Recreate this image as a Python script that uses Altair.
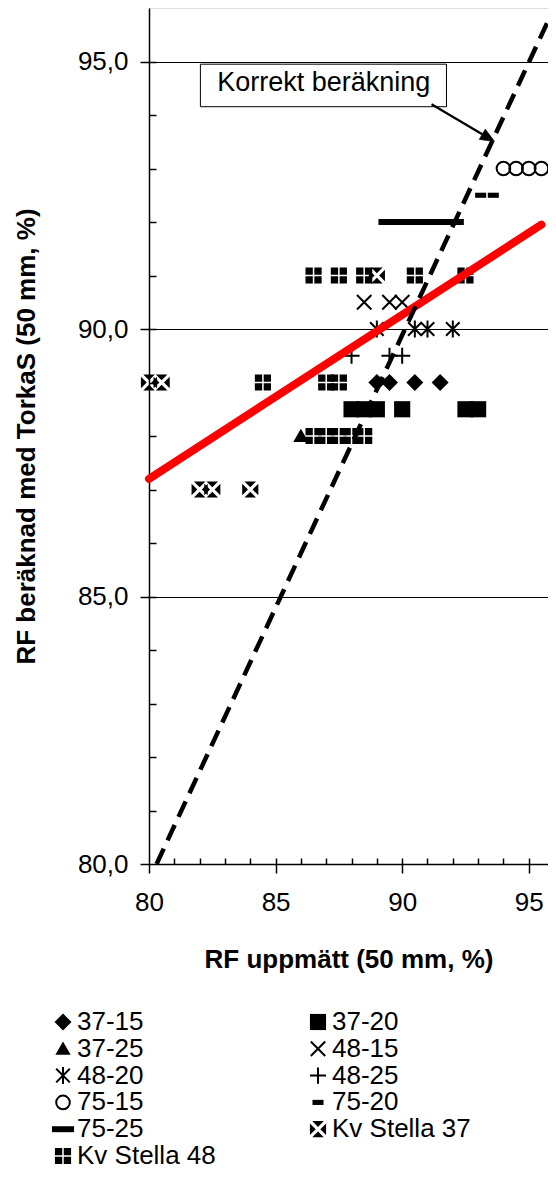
import altair as alt
import pandas as pd

# ---------------- data ----------------
SERIES = ["37-15", "37-20", "37-25", "48-15", "48-20", "48-25",
          "75-15", "75-20", "75-25", "Kv Stella 37", "Kv Stella 48"]

x_37_15 = [89.0, 89.5, 90.5, 91.5]
y_37_15 = [89.0, 89.0, 89.0, 89.0]
x_37_20 = [88.0, 88.5, 89.0, 90.0, 92.5, 93.0]
y_37_20 = [88.5, 88.5, 88.5, 88.5, 88.5, 88.5]
x_37_25 = [86.0]
y_37_25 = [88.0]
x_48_15 = [88.5, 89.5, 90.0]
y_48_15 = [90.5, 90.5, 90.5]
x_48_20 = [89.0, 90.5, 91.0, 92.0]
y_48_20 = [90.0, 90.0, 90.0, 90.0]
x_48_25 = [88.0, 89.5, 90.0]
y_48_25 = [89.5, 89.5, 89.5]
x_75_15 = [94.0, 94.5, 95.0, 95.5]
y_75_15 = [93.0, 93.0, 93.0, 93.0]
x_75_20 = [93.1, 93.6]
y_75_20 = [92.5, 92.5]
x_75_25 = [89.5, 90.0, 90.5, 91.0, 91.5, 92.0]
y_75_25 = [92.0, 92.0, 92.0, 92.0, 92.0, 92.0]
x_kv37 = [80.0, 80.5, 82.0, 82.5, 84.0, 89.0]
y_kv37 = [89.0, 89.0, 87.0, 87.0, 87.0, 91.0]
x_kv48 = [86.5, 87.5, 88.5, 90.5, 92.5, 84.5, 87.0, 87.5, 86.5, 87.0, 87.5, 88.0, 88.5]
y_kv48 = [91.0, 91.0, 91.0, 91.0, 91.0, 89.0, 89.0, 89.0, 88.0, 88.0, 88.0, 88.0, 88.0]

# "Korrekt beräkning" dashed line and red fitted line (end points)
korrekt_x = [80.3, 96.0]
korrekt_y = [80.0, 96.0]
fit_x = [80.0, 95.5]
fit_y = [87.2, 91.95]

# annotation (data units)
note_text = ["Korrekt beräkning"]
note_box_x = [82.03]
note_box_x2 = [91.75]
note_box_y = [94.95]
note_box_y2 = [94.155]
note_text_x = [86.9]
note_text_y = [94.6]
arrow_x = [91.16, 93.38]
arrow_y = [94.2, 93.58]

x_domain = [80, 95.76]
y_domain = [80, 96]
x_major = [80, 85, 90, 95]
y_major = [80, 85, 90, 95]
minor = [81, 82, 83, 84, 85, 86, 87, 88, 89, 90, 91, 92, 93, 94, 95]

# ---------------- build tables ----------------
series_xy = [
    ("37-15", x_37_15, y_37_15), ("37-20", x_37_20, y_37_20),
    ("37-25", x_37_25, y_37_25), ("48-15", x_48_15, y_48_15),
    ("48-20", x_48_20, y_48_20), ("48-25", x_48_25, y_48_25),
    ("75-15", x_75_15, y_75_15), ("75-20", x_75_20, y_75_20),
    ("75-25", x_75_25, y_75_25), ("Kv Stella 37", x_kv37, y_kv37),
    ("Kv Stella 48", x_kv48, y_kv48),
]
rows = []
for name, xs_, ys_ in series_xy:
    for a, b in zip(xs_, ys_):
        rows.append({"serie": name, "x": a, "y": b})
pts = pd.DataFrame(rows)

kv37_path = ("M-0.68,-0.95L0.68,-0.95L0,-0.27Z M-0.68,0.95L0.68,0.95L0,0.27Z "
             "M-0.95,-0.68L-0.95,0.68L-0.27,0Z M0.95,-0.68L0.95,0.68L0.27,0Z")
kv48_path = ("M-0.95,-0.95L-0.09,-0.95L-0.09,-0.09L-0.95,-0.09Z "
             "M0.09,-0.95L0.95,-0.95L0.95,-0.09L0.09,-0.09Z "
             "M-0.95,0.09L-0.09,0.09L-0.09,0.95L-0.95,0.95Z "
             "M0.09,0.09L0.95,0.09L0.95,0.95L0.09,0.95Z")
shapes = [
    "M-1,0L0,-1L1,0L0,1Z",
    "M-0.95,-0.95L0.95,-0.95L0.95,0.95L-0.95,0.95Z",
    "M0,-0.85L0.9,0.7L-0.9,0.7Z",
    "M-0.85,-0.85L0.85,0.85M-0.85,0.85L0.85,-0.85",
    "M-0.8,-0.8L0.8,0.8M-0.8,0.8L0.8,-0.8M0,-1L0,1",
    "M-0.95,0L0.95,0M0,-0.95L0,0.95",
    "M-0.8,0A0.8,0.8,0,1,0,0.8,0A0.8,0.8,0,1,0,-0.8,0Z",
    "M-0.65,-0.3L0.65,-0.3L0.65,0.3L-0.65,0.3Z",
    "M-1.3,-0.35L1.3,-0.35L1.3,0.35L-1.3,0.35Z",
    kv37_path,
    kv48_path,
]
fills = ["black", "black", "black", "transparent", "transparent", "transparent",
         "transparent", "black", "black", "black", "black"]
strokes = ["transparent", "transparent", "transparent", "black", "black", "black",
           "black", "transparent", "transparent", "transparent", "transparent"]

FONT = "Liberation Sans"
xs = alt.Scale(domain=x_domain, nice=False, zero=False)
ys = alt.Scale(domain=y_domain, nice=False, zero=False)

legend = alt.Legend(
    title=None, orient="none", legendX=-99, legendY=1001, columns=2,
    direction="horizontal",
    symbolSize=289, symbolStrokeWidth=2, labelFontSize=26, labelFont=FONT,
    labelColor="black", labelOffset=1, rowPadding=0.8, columnPadding=89,
    labelLimit=400, symbolOpacity=1,
)

points = alt.Chart(pts).mark_point(size=289, strokeWidth=2, opacity=1).encode(
    x=alt.X("x:Q", scale=xs, axis=alt.Axis(
        orient="bottom", values=x_major, tickSize=9, tickWidth=1.5, tickColor="black",
        domainColor="black", domainWidth=1.5, grid=False,
        labelFontSize=26, labelFont=FONT, labelColor="black", labelPadding=16,
        labelFlush=False, labelOverlap=False,
        title="RF uppmätt (50 mm, %)", titleFont=FONT, titleFontSize=26,
        titleFontWeight="bold", titleColor="black", titlePadding=31)),
    y=alt.Y("y:Q", scale=ys, axis=alt.Axis(
        orient="left", values=y_major, tickSize=9, tickWidth=1.5, tickColor="black",
        domainColor="black", domainWidth=1.5, grid=True, gridColor="black", gridWidth=1,
        labelFontSize=26, labelFont=FONT, labelColor="black", labelPadding=12,
        labelExpr="replace(format(datum.value, '.1f'), '.', ',')",
        labelFlush=False, labelOverlap=False,
        title="RF beräknad med TorkaS (50 mm, %)", titleFont=FONT, titleFontSize=26,
        titleFontWeight="bold", titleColor="black", titlePadding=38)),
    shape=alt.Shape("serie:N", scale=alt.Scale(domain=SERIES, range=shapes), legend=legend),
    fill=alt.Fill("serie:N", scale=alt.Scale(domain=SERIES, range=fills), legend=legend),
    stroke=alt.Stroke("serie:N", scale=alt.Scale(domain=SERIES, range=strokes), legend=legend),
)

fit_df = pd.DataFrame({"x": fit_x, "y": fit_y})
fit = alt.Chart(fit_df).mark_line(color="#FF0000", strokeWidth=8, strokeCap="round").encode(
    x=alt.X("x:Q", scale=xs, axis=alt.Axis(
        orient="bottom", offset=-6, values=minor, tickSize=6, tickWidth=1.5,
        tickColor="black", domain=False, labels=False, title=None, grid=False)),
    y=alt.Y("y:Q", scale=ys, axis=None),
)

kor_df = pd.DataFrame({"x": korrekt_x, "y": korrekt_y})
kor = alt.Chart(kor_df).mark_line(color="black", strokeWidth=4.5, strokeDash=[17, 9],
                                  clip=True).encode(
    x=alt.X("x:Q", scale=xs, axis=None),
    y=alt.Y("y:Q", scale=ys, axis=alt.Axis(
        orient="left", offset=-7, values=minor, tickSize=7, tickWidth=1.5,
        tickColor="black", domain=False, labels=False, title=None, grid=False)),
)

box_df = pd.DataFrame({"x": note_box_x, "x2": note_box_x2, "y": note_box_y, "y2": note_box_y2})
box = alt.Chart(box_df).mark_rect(fill="white", stroke="black", strokeWidth=1).encode(
    x=alt.X("x:Q", scale=xs, axis=None), x2="x2:Q",
    y=alt.Y("y:Q", scale=ys, axis=None), y2="y2:Q",
)

txt_df = pd.DataFrame({"x": note_text_x, "y": note_text_y, "t": note_text})
txt = alt.Chart(txt_df).mark_text(font=FONT, fontSize=27, color="black",
                                  align="center", baseline="middle").encode(
    x=alt.X("x:Q", scale=xs, axis=None),
    y=alt.Y("y:Q", scale=ys, axis=None),
    text="t:N",
)

arr_df = pd.DataFrame({"x": arrow_x, "y": arrow_y})
arr = alt.Chart(arr_df).mark_line(color="black", strokeWidth=2.2).encode(
    x=alt.X("x:Q", scale=xs, axis=None),
    y=alt.Y("y:Q", scale=ys, axis=None),
)
head_df = pd.DataFrame({"x": arrow_x[1:], "y": arrow_y[1:]})
head = alt.Chart(head_df).mark_point(
    shape="M0,-1L0.75,0.8L-0.75,0.8Z", size=256, filled=True, fill="black",
    stroke="black", strokeWidth=0.5, opacity=1, angle=120.5).encode(
    x=alt.X("x:Q", scale=xs, axis=None),
    y=alt.Y("y:Q", scale=ys, axis=None),
)

chart = alt.layer(points, fit, kor, box, txt, arr, head).resolve_axis(
    x="independent", y="independent"
).properties(
    width=399, height=856,
    autosize=alt.AutoSizeParams(type="none"),
    padding={"left": 141, "top": 0, "right": 0, "bottom": 305},
).configure_view(stroke="#808080", strokeWidth=1).configure(font=FONT)

chart.save("out.html", embed_options={"renderer": "svg", "actions": False})
